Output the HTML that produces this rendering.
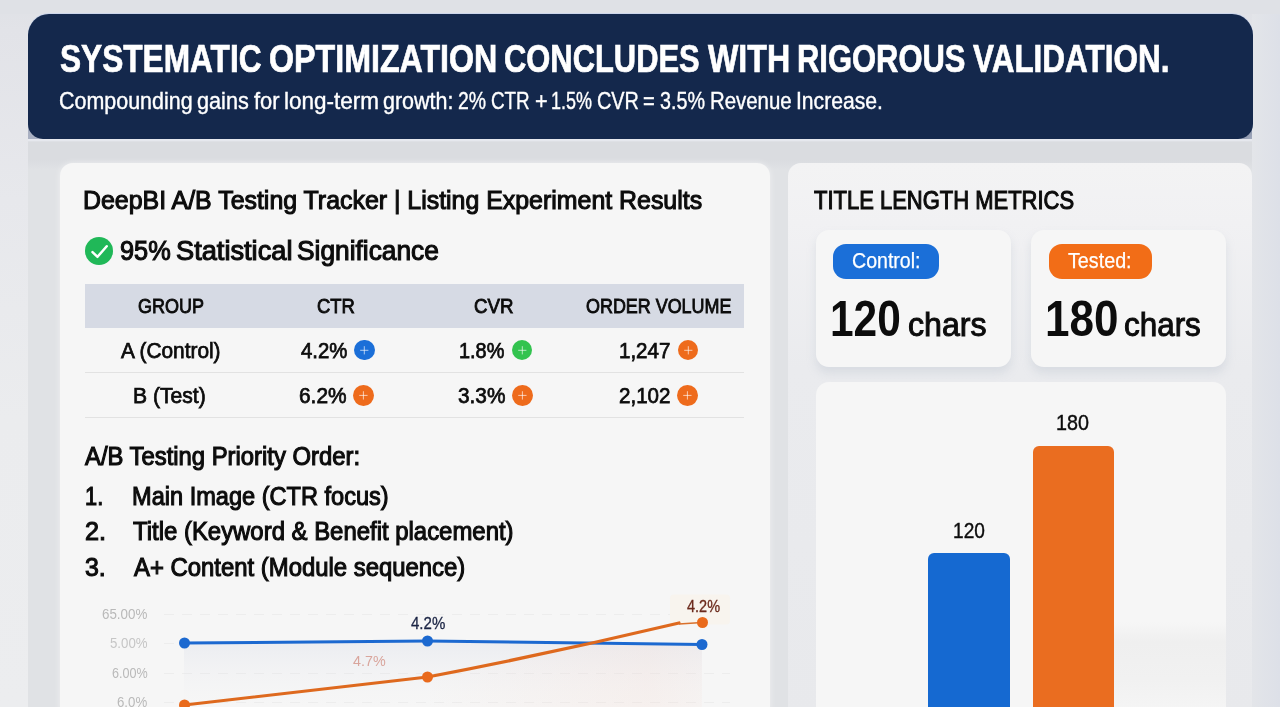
<!DOCTYPE html>
<html lang="en">
<head>
<meta charset="utf-8">
<title>Systematic Optimization Concludes With Rigorous Validation</title>
<style>
html,body{margin:0;padding:0}
body{width:1280px;height:707px;overflow:hidden;background:#e3e5ea;font-family:"Liberation Sans",Arial,sans-serif;color:#0c0c0c}
#app{position:relative;width:1280px;height:707px;overflow:hidden}
.b{position:absolute;display:block;box-sizing:border-box}
.t{position:absolute;display:block;margin:0;padding:0;white-space:pre;line-height:1;font-weight:400;transform-origin:0 0}
.dot svg,.b svg{display:block}
svg.chart{position:absolute;left:0;top:0}
.w{position:absolute;top:0;display:block;white-space:pre;transform-origin:0 0}
</style>
</head>
<body>
<main id="app">
<div class="b" style="left:0;top:0;width:1280px;height:707px;background:linear-gradient(180deg,#dfe1e6 0,#e2e3e8 30px,#e7e8ec 200px,#ebecee 420px,#ecedef 707px)"></div>
<div class="b" style="left:1252px;top:0;width:28px;height:707px;background:linear-gradient(90deg,#e3e5e9,#dde0e8)"></div>
<div class="b" style="left:0;top:0;width:1280px;height:14px;background:#dfe1e6"></div>
<div class="b" style="left:28px;top:100px;width:1224px;height:607px;background:linear-gradient(180deg,#e6e8ee 0,#e6e8ee 40.5px,#dadce0 42px,#dadce0 60px,#e0e2e5 70px)"></div>
<div class="b" style="left:28px;top:118px;width:40px;height:20.5px;background:#a9b0c2"></div>
<div class="b" style="left:1212px;top:118px;width:40px;height:20.5px;background:linear-gradient(135deg,#5c6887 40%,#a2aabd)"></div>
<header>
<div class="b banner" style="left:28px;top:14px;width:1224.5px;height:124.7px;background:#14284c;border-radius:21px 21px 15px 15px;box-shadow:0 -1px 0 rgba(196,210,236,.7);"></div>
<h1 class="t" style="left:0;top:40px;font-size:38.23px;font-weight:700;color:#ffffff;-webkit-text-stroke:0.7px;"><span class="w" style="left:59.77px;transform:scaleX(0.8277)">SYSTEMATIC</span> <span class="w" style="left:268.5px;transform:scaleX(0.8424)">OPTIMIZATION</span> <span class="w" style="left:504.04px;transform:scaleX(0.8084)">CONCLUDES</span> <span class="w" style="left:707.69px;transform:scaleX(0.8419)">WITH</span> <span class="w" style="left:796.99px;transform:scaleX(0.8098)">RIGOROUS</span> <span class="w" style="left:972.54px;transform:scaleX(0.8237)">VALIDATION.</span></h1><p class="t" style="left:0;top:89px;font-size:24.13px;color:#ffffff;-webkit-text-stroke:0.4px;"><span class="w" style="left:59.47px;transform:scaleX(0.8891)">Compounding</span> <span class="w" style="left:197.26px;transform:scaleX(0.8985)">gains</span> <span class="w" style="left:254.09px;transform:scaleX(0.9048)">for</span> <span class="w" style="left:283.73px;transform:scaleX(0.9325)">long-term</span> <span class="w" style="left:383.01px;transform:scaleX(0.8904)">growth:</span> <span class="w" style="left:457.86px;transform:scaleX(0.8057)">2%</span> <span class="w" style="left:490.84px;transform:scaleX(0.7812)">CTR</span> <span class="w" style="left:534.52px;transform:scaleX(0.8952)">+</span> <span class="w" style="left:550.85px;transform:scaleX(0.7438)">1.5%</span> <span class="w" style="left:596.54px;transform:scaleX(0.8234)">CVR</span> <span class="w" style="left:642.84px;transform:scaleX(0.8328)">=</span> <span class="w" style="left:659.83px;transform:scaleX(0.8178)">3.5%</span> <span class="w" style="left:709.75px;transform:scaleX(0.8456)">Revenue</span> <span class="w" style="left:796.15px;transform:scaleX(0.8755)">Increase.</span></p>
</header>
<section class="left">
<div class="b card" style="left:59.5px;top:162.5px;width:710.0px;height:557.5px;background:#f6f6f6;border-radius:13px;box-shadow:0 0 6px rgba(255,255,255,.5);"></div>
<h2 class="t" style="left:83.47px;top:187px;font-size:26.02px;transform:scaleX(0.9571);-webkit-text-stroke:1.1px;">DeepBI A/B Testing Tracker | Listing Experiment Results</h2>
<span class="b" style="left:84.9px;top:236.8px;width:28px;height:28px;border-radius:50%;background:#20b858"><svg viewBox="0 0 28 28" width="28" height="28"><path d="M7.5 15.1l5 4.7 9.2-10.5" fill="none" stroke="#fff" stroke-width="2.5" stroke-linecap="round" stroke-linejoin="round"/></svg></span><span class="t" style="left:0;top:238px;font-size:26.74px;-webkit-text-stroke:1.1px;"><span class="w" style="left:119.76px;transform:scaleX(0.9479)">95%</span> <span class="w" style="left:175.77px;transform:scaleX(1.0179)">Statistical</span> <span class="w" style="left:296.79px;transform:scaleX(0.9843)">Significance</span></span>
<div class="table">
<div class="b" style="left:85px;top:283.75px;width:658.75px;height:43.75px;background:#d6dae4;"></div>
<span class="t" style="left:137.69px;top:296px;font-size:20.86px;transform:scaleX(0.8621);-webkit-text-stroke:0.9px;">GROUP</span><span class="t" style="left:316.91px;top:296px;font-size:20.86px;transform:scaleX(0.8837);-webkit-text-stroke:0.9px;">CTR</span><span class="t" style="left:473.65px;top:296px;font-size:20.86px;transform:scaleX(0.8957);-webkit-text-stroke:0.9px;">CVR</span><span class="t" style="left:585.74px;top:296px;font-size:20.86px;transform:scaleX(0.8592);-webkit-text-stroke:0.9px;">ORDER VOLUME</span>
<span class="t" style="left:121.45px;top:341px;font-size:21.44px;transform:scaleX(0.9716);-webkit-text-stroke:0.75px;">A (Control)</span><span class="t" style="left:301.13px;top:341px;font-size:21.44px;transform:scaleX(0.9482);-webkit-text-stroke:0.75px;">4.2%</span><span class="t" style="left:458.91px;top:341px;font-size:21.44px;transform:scaleX(0.9271);-webkit-text-stroke:0.75px;">1.8%</span><span class="t" style="left:619.37px;top:341px;font-size:21.44px;transform:scaleX(0.9565);-webkit-text-stroke:0.75px;">1,247</span><span class="b dot" style="left:354.3px;top:339.9px;width:20.6px;height:20.6px;background:#1b6fd8;border-radius:50%;"><svg viewBox="0 0 20 20" width="20.6" height="20.6"><path d="M10 6v8M6 10h8" stroke="#fff" stroke-opacity=".7" stroke-width=".9" fill="none"/></svg></span><span class="b dot" style="left:511.7px;top:339.9px;width:20.6px;height:20.6px;background:#33c34f;border-radius:50%;"><svg viewBox="0 0 20 20" width="20.6" height="20.6"><path d="M10 6v8M6 10h8" stroke="#fff" stroke-opacity=".7" stroke-width=".9" fill="none"/></svg></span><span class="b dot" style="left:677.7px;top:339.9px;width:20.6px;height:20.6px;background:#ee6b1c;border-radius:50%;"><svg viewBox="0 0 20 20" width="20.6" height="20.6"><path d="M10 6v8M6 10h8" stroke="#fff" stroke-opacity=".7" stroke-width=".9" fill="none"/></svg></span>
<div class="b" style="left:85px;top:372px;width:658.75px;height:1px;background:#e2e2e2;"></div>
<span class="t" style="left:133.2px;top:385px;font-size:22.17px;transform:scaleX(0.9529);-webkit-text-stroke:0.75px;">B (Test)</span><span class="t" style="left:299.25px;top:385px;font-size:22.17px;transform:scaleX(0.9421);-webkit-text-stroke:0.75px;">6.2%</span><span class="t" style="left:457.61px;top:385px;font-size:22.17px;transform:scaleX(0.9399);-webkit-text-stroke:0.75px;">3.3%</span><span class="t" style="left:618.82px;top:385px;font-size:22.17px;transform:scaleX(0.9273);-webkit-text-stroke:0.75px;">2,102</span><span class="b dot" style="left:353.35px;top:384.85px;width:20.8px;height:20.8px;background:#ee6b1c;border-radius:50%;"><svg viewBox="0 0 20 20" width="20.8" height="20.8"><path d="M10 6v8M6 10h8" stroke="#fff" stroke-opacity=".7" stroke-width=".9" fill="none"/></svg></span><span class="b dot" style="left:511.80000000000007px;top:384.85px;width:20.8px;height:20.8px;background:#ee6b1c;border-radius:50%;"><svg viewBox="0 0 20 20" width="20.8" height="20.8"><path d="M10 6v8M6 10h8" stroke="#fff" stroke-opacity=".7" stroke-width=".9" fill="none"/></svg></span><span class="b dot" style="left:676.8000000000001px;top:384.85px;width:20.8px;height:20.8px;background:#ee6b1c;border-radius:50%;"><svg viewBox="0 0 20 20" width="20.8" height="20.8"><path d="M10 6v8M6 10h8" stroke="#fff" stroke-opacity=".7" stroke-width=".9" fill="none"/></svg></span>
<div class="b" style="left:85px;top:417px;width:658.75px;height:1px;background:#e2e2e2;"></div>
</div>
<h3 class="t" style="left:85.35px;top:444px;font-size:24.93px;transform:scaleX(0.9561);-webkit-text-stroke:1.1px;">A/B Testing Priority Order:</h3>
<div class="list"><span class="t" style="left:85.28px;top:483px;font-size:26.38px;transform:scaleX(0.8271);-webkit-text-stroke:1.1px;">1.</span><span class="t" style="left:132.31px;top:483px;font-size:26.38px;transform:scaleX(0.8936);-webkit-text-stroke:1.1px;">Main Image (CTR focus)</span><span class="t" style="left:84.76px;top:519px;font-size:25.65px;transform:scaleX(0.9832);-webkit-text-stroke:1.1px;">2.</span><span class="t" style="left:132.98px;top:519px;font-size:25.65px;transform:scaleX(0.9326);-webkit-text-stroke:1.1px;">Title (Keyword &amp; Benefit placement)</span><span class="t" style="left:85.0px;top:555px;font-size:25.65px;transform:scaleX(0.9713);-webkit-text-stroke:1.1px;">3.</span><span class="t" style="left:134.08px;top:555px;font-size:25.65px;transform:scaleX(0.9315);-webkit-text-stroke:1.1px;">A+ Content (Module sequence)</span></div>
<svg class="chart" width="1280" height="707" viewBox="0 0 1280 707">
<defs>
<linearGradient id="ga" x1="0" y1="0" x2="0" y2="1"><stop offset="0" stop-color="#c9cfe0" stop-opacity=".24"/><stop offset="1" stop-color="#e9e9ee" stop-opacity="0"/></linearGradient>
<linearGradient id="gb" x1="0" y1="0" x2="1" y2="0"><stop offset="0" stop-color="#f6d9cf" stop-opacity="0"/><stop offset=".8" stop-color="#f6d9cf" stop-opacity=".22"/><stop offset="1" stop-color="#f6d9cf" stop-opacity=".12"/></linearGradient>
</defs>
<g stroke="#ededed" stroke-width="1" stroke-dasharray="10 8"><path d="M164 614.5H730M164 643.5H180M164 673.5H730M164 702.5H730"/></g>
<path d="M184 643L427.5 641L702 645V707H184Z" fill="url(#ga)"/>
<path d="M427.5 677L589 643.5L702 645V707H427.5Z" fill="url(#gb)"/>
<rect x="670" y="594.5" width="60" height="30" rx="4" fill="#f8f4ee"/>
<path d="M184.5 643L427.5 641L702 644.5" fill="none" stroke="#1c69d0" stroke-width="3" stroke-linejoin="round"/>
<path d="M184.5 705L427.5 677Q553 653 679 623" fill="none" stroke="#de691e" stroke-width="3.2" stroke-linejoin="round" stroke-linecap="round"/>
<path d="M679 624L702 622.5" fill="none" stroke="#d9702c" stroke-width="1.6"/>
<g fill="#1c69d0"><circle cx="184.5" cy="643" r="5.5"/><circle cx="427.5" cy="641" r="5.5"/><circle cx="702" cy="644.5" r="5.5"/></g>
<g fill="#e96a1c"><circle cx="184.5" cy="705" r="5.5"/><circle cx="427.5" cy="677" r="5.5"/><circle cx="702.5" cy="622.5" r="5.5"/></g>
</svg>
<span class="t" style="left:102.29px;top:607px;font-size:14.54px;transform:scaleX(0.9197);color:#b9b9b9;">65.00%</span><span class="t" style="left:110.0px;top:636px;font-size:14.54px;transform:scaleX(0.9112);color:#c6c6c6;">5.00%</span><span class="t" style="left:111.83px;top:666px;font-size:14.54px;transform:scaleX(0.8659);color:#b9b9b9;">6.00%</span><span class="t" style="left:117.3px;top:695px;font-size:14.54px;transform:scaleX(0.9107);color:#b9b9b9;">6.0%</span><span class="t" style="left:410.5px;top:615px;font-size:17.01px;transform:scaleX(0.8841);color:#1b2444;-webkit-text-stroke:0.3px;">4.2%</span><span class="t" style="left:352.91px;top:654px;font-size:14.54px;transform:scaleX(0.984);color:#d9a59c;">4.7%</span><span class="t" style="left:686.76px;top:599px;font-size:15.92px;transform:scaleX(0.9107);color:#6b2a1c;-webkit-text-stroke:0.3px;">4.2%</span>
</section>
<section class="right">
<div class="b card" style="left:788px;top:162.5px;width:464px;height:557.5px;background:linear-gradient(180deg,#f3f3f4 0,#f1f1f3 60px,#eaebee 205px,#e8e9ec 100%);border-radius:13px;"></div>
<h2 class="t" style="left:814.48px;top:187px;font-size:26.02px;transform:scaleX(0.8449);-webkit-text-stroke:1.1px;">TITLE LENGTH METRICS</h2>
<div class="b sub" style="left:816px;top:230px;width:195px;height:136.5px;background:#f6f6f6;border-radius:13px;box-shadow:0 6px 10px rgba(170,178,195,.28);"></div>
<div class="b sub" style="left:1030.5px;top:230px;width:195.0px;height:136.5px;background:#f6f6f6;border-radius:13px;box-shadow:0 6px 10px rgba(170,178,195,.28);"></div>
<div class="b" style="left:832.5px;top:244.25px;width:106.25px;height:34.25px;background:#1b6fd8;border-radius:13px;"></div><div class="b" style="left:1048.5px;top:244.25px;width:103.0px;height:34.25px;background:#f26d17;border-radius:13px;"></div>
<span class="t" style="left:851.99px;top:251px;font-size:21.44px;transform:scaleX(0.913);color:#ffffff;-webkit-text-stroke:0.25px;">Control:</span><span class="t" style="left:1068.45px;top:251px;font-size:21.44px;transform:scaleX(0.9198);color:#ffffff;-webkit-text-stroke:0.25px;">Tested:</span><span class="t" style="left:830.3px;top:295px;font-size:49.78px;transform:scaleX(0.8527);font-weight:700;">120</span><span class="t" style="left:907.76px;top:308px;font-size:33.1px;transform:scaleX(0.972);-webkit-text-stroke:1.0px;">chars</span><span class="t" style="left:1044.7px;top:295px;font-size:49.78px;transform:scaleX(0.8849);font-weight:700;">180</span><span class="t" style="left:1124.04px;top:308px;font-size:33.1px;transform:scaleX(0.9499);-webkit-text-stroke:1.0px;">chars</span>
<div class="b sub" style="left:816px;top:382px;width:409.5px;height:338px;background:#f6f6f6;border-radius:13px;"></div>
<div class="b" style="left:1114px;top:622px;width:111.5px;height:85px;background:linear-gradient(180deg,rgba(232,232,232,0) 0,rgba(232,232,232,.5) 24%,rgba(234,234,234,.4) 70%,rgba(238,238,238,.2) 100%);"></div>
<div class="b" style="left:928.25px;top:553.25px;width:82.0px;height:166.75px;background:#1569d1;border-radius:6px;"></div><div class="b" style="left:1032.5px;top:445.75px;width:81.25px;height:274.25px;background:#ea6d20;border-radius:6px;"></div>
<span class="t" style="left:1055.75px;top:412px;font-size:21.22px;transform:scaleX(0.9308);-webkit-text-stroke:0.4px;">180</span><span class="t" style="left:953.04px;top:520px;font-size:21.22px;transform:scaleX(0.9007);-webkit-text-stroke:0.4px;">120</span>
</section>
</main>
</body>
</html>
